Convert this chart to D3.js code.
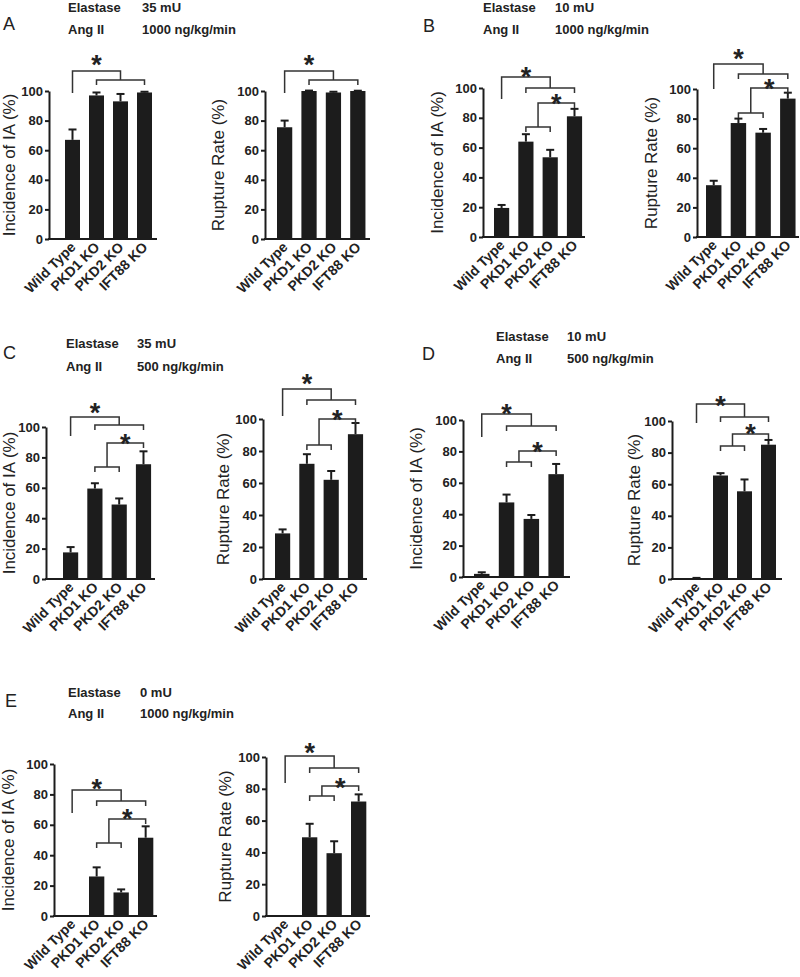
<!DOCTYPE html>
<html>
<head>
<meta charset="utf-8">
<script src="https://cdn.jsdelivr.net/npm/d3@7"></script>
<style>
  html, body { margin: 0; padding: 0; background: #fff; }
  svg text { font-family: Arial, "Liberation Sans", Helvetica, sans-serif; fill: #222; }
</style>
</head>
<body>
<svg id="fig" width="800" height="977"></svg>
<script>
// ---------------- DATA ----------------
const categories = ["Wild Type", "PKD1 KO", "PKD2 KO", "IFT88 KO"];
const panelLetters = ["A", "B", "C", "D", "E"];
const elastaseDose = ["35 mU", "10 mU", "35 mU", "10 mU", "0 mU"];
const angIIDose = ["1000 ng/kg/min", "1000 ng/kg/min", "500 ng/kg/min", "500 ng/kg/min", "1000 ng/kg/min"];
const yTicks = [0, 20, 40, 60, 80, 100];
const metricLabels = ["Incidence of IA (%)", "Rupture Rate (%)"];

// incidence of IA (%) — mean per panel (A..E)
const incidenceMean = [
  [67, 97, 93, 99],
  [19.5, 64, 53.5, 81],
  [17.5, 59.5, 49, 75.5],
  [2, 47.5, 37, 65.5],
  [0, 26, 15.5, 51.5]
];
const incidenceErr = [
  [7, 2, 5, 0.5],
  [2, 5, 5, 5],
  [3.5, 3.5, 4, 8.5],
  [1, 5, 2.5, 6.5],
  [0, 6, 2, 7.5]
];
// rupture rate (%)
const ruptureMean = [
  [75.5, 100, 99, 100],
  [35, 77, 70.5, 93.5],
  [28.5, 72, 62, 90.5],
  [0.5, 65.5, 55.5, 85],
  [0, 49.5, 39.5, 72]
];
const ruptureErr = [
  [4.5, 0.3, 0.5, 0.2],
  [3, 3, 2.5, 4],
  [2.5, 6, 5.5, 7],
  [0.2, 1.5, 7.5, 3],
  [0, 8.5, 7.5, 4.5]
];
// significance annotations (in % units): [wtLegBottom, level1, level2, star1, level3, level4, star2]
const sigIncidence = [
  [98.6, 113.5, 107.4, 122, null, null, null],
  [92.6, 107.4, 100, 111.5, 73.8, 89.9, 93.5],
  [94.1, 106.6, 101.3, 113.2, 73.7, 89.5, 93],
  [89.2, 103.8, 96.2, 107.6, 73.2, 80.3, 83.4],
  [67.8, 82.9, 75.7, 87.5, 48, 63.8, 67.8]
];
const sigRupture = [
  [98.6, 113.5, 107.4, 122, null, null, null],
  [100, 116.9, 110.1, 124.3, 83.8, 100.7, 104],
  [101.9, 118.8, 111.9, 125.6, 83.8, 100, 103.1],
  [98.7, 110.8, 102.5, 113.3, 84.2, 91.8, 95.6],
  [83.6, 100.6, 93.1, 106.3, 75.5, 81.8, 84.3]
];

// ---------------- LAYOUT ----------------
const frames = [
  {p:0, m:0, left:49,  right:157, top:91,  bottom:239, first:65,    step:24,   labelX:9},
  {p:0, m:1, left:265, right:370, top:91,  bottom:239, first:277,   step:24.4, labelX:218},
  {p:1, m:0, left:483, right:585, top:88,  bottom:237, first:494,   step:24.3, labelX:437},
  {p:1, m:1, left:697, right:799, top:89,  bottom:237, first:706,   step:24.7, labelX:651},
  {p:2, m:0, left:46,  right:155, top:427, bottom:579, first:63,    step:24.3, labelX:9},
  {p:2, m:1, left:263, right:367, top:419, bottom:579, first:275,   step:24.3, labelX:223},
  {p:3, m:0, left:463, right:570, top:420, bottom:577, first:474,   step:24.8, labelX:416},
  {p:3, m:1, left:672, right:782, top:421, bottom:579, first:689,   step:24,   labelX:634},
  {p:4, m:0, left:54,  right:157, top:764, bottom:916, first:64.5,  step:24.5, labelX:8},
  {p:4, m:1, left:266, right:370, top:757, bottom:916, first:277.5, step:24.5, labelX:225}
];
const headers = [
  {letterX:3,   letterY:30,  x:68,  valX:142, y1:12,  y2:34},
  {letterX:423, letterY:32,  x:483, valX:555, y1:12,  y2:34},
  {letterX:3,   letterY:359, x:66,  valX:137, y1:348, y2:371},
  {letterX:422, letterY:360, x:496, valX:567, y1:341, y2:363},
  {letterX:5,   letterY:707, x:68,  valX:140, y1:697, y2:718}
];

const svg = d3.select("#fig");
const INK = "#1c1c1c";

headers.forEach((h, i) => {
  const g = svg.append("g");
  g.append("text").attr("x", h.letterX).attr("y", h.letterY)
    .attr("font-size", 18).text(panelLetters[i]);
  g.append("text").attr("x", h.x).attr("y", h.y1).attr("font-size", 13)
    .attr("font-weight", "bold").text("Elastase");
  g.append("text").attr("x", h.valX).attr("y", h.y1).attr("font-size", 13)
    .attr("font-weight", "bold").text(elastaseDose[i]);
  g.append("text").attr("x", h.x).attr("y", h.y2).attr("font-size", 13)
    .attr("font-weight", "bold").text("Ang II");
  g.append("text").attr("x", h.valX).attr("y", h.y2).attr("font-size", 13)
    .attr("font-weight", "bold").text(angIIDose[i]);
});

frames.forEach(f => {
  const means = (f.m === 0 ? incidenceMean : ruptureMean)[f.p];
  const errs = (f.m === 0 ? incidenceErr : ruptureErr)[f.p];
  const sig = (f.m === 0 ? sigIncidence : sigRupture)[f.p];

  const pi = 0.375, po = pi / 2;
  const x0 = f.first - po * f.step;
  const x = d3.scaleBand().domain(categories)
    .range([x0, x0 + categories.length * f.step])
    .paddingInner(pi).paddingOuter(po);
  const y = d3.scaleLinear().domain([0, 100]).range([f.bottom, f.top]);
  const cx = c => x(c) + x.bandwidth() / 2;

  const g = svg.append("g");

  const data = categories.map((c, i) => ({c, v: means[i], e: errs[i]}));
  g.selectAll("rect.bar").data(data).join("rect")
    .attr("class", "bar")
    .attr("x", d => x(d.c)).attr("width", x.bandwidth())
    .attr("y", d => y(d.v)).attr("height", d => y(0) - y(d.v))
    .attr("fill", INK);

  const eb = g.selectAll("g.err").data(data.filter(d => d.v > 0)).join("g").attr("class", "err");
  eb.append("line")
    .attr("x1", d => cx(d.c)).attr("x2", d => cx(d.c))
    .attr("y1", d => y(d.v)).attr("y2", d => y(d.v + d.e))
    .attr("stroke", INK).attr("stroke-width", 2);
  eb.append("line")
    .attr("x1", d => cx(d.c) - 4).attr("x2", d => cx(d.c) + 4)
    .attr("y1", d => y(d.v + d.e)).attr("y2", d => y(d.v + d.e))
    .attr("stroke", INK).attr("stroke-width", 2);

  const ya = g.append("g").attr("transform", `translate(${f.left},0)`)
    .call(d3.axisLeft(y).tickValues(yTicks).tickSize(4).tickPadding(2).tickSizeOuter(0));
  ya.select(".domain").attr("stroke", INK).attr("stroke-width", 2);
  ya.selectAll(".tick line").attr("stroke", INK).attr("stroke-width", 2);
  ya.selectAll(".tick text").attr("font-size", 13).attr("font-weight", "bold")
    .attr("font-family", "Arial, 'Liberation Sans', sans-serif").attr("fill", "#222");

  g.append("line").attr("x1", f.left - 1).attr("x2", f.right)
    .attr("y1", y(0)).attr("y2", y(0))
    .attr("stroke", INK).attr("stroke-width", 2);

  g.selectAll("text.xl").data(categories).join("text")
    .attr("class", "xl")
    .attr("transform", c => `translate(${cx(c) + 4},${y(0) + 9}) rotate(-45)`)
    .attr("text-anchor", "end")
    .attr("font-size", 14).attr("fill", "#1a1a1a")
    .style("font-weight", 600)
    .text(c => c);

  g.append("text")
    .attr("transform", `translate(${f.labelX + 6},${(f.top + f.bottom) / 2}) rotate(-90)`)
    .attr("text-anchor", "middle").attr("font-size", 17)
    .text(metricLabels[f.m]);

  const BR = "#333", TK = 5;
  const [wtLeg, L1, L2, s1, L3, L4, s2] = sig;
  const pk1 = cx(categories[1]), pk2 = cx(categories[2]), ift = cx(categories[3]), wt = cx(categories[0]);
  const mid2 = (pk1 + ift) / 2;
  const bg = g.append("g").attr("fill", "none").attr("stroke", BR).attr("stroke-width", 1.5);
  bg.append("path").attr("d", d3.line()([[wt, y(wtLeg)], [wt, y(L1)], [mid2, y(L1)], [mid2, y(L2)]]));
  bg.append("path").attr("d", d3.line()([[pk1, y(L2) + TK], [pk1, y(L2)], [ift, y(L2)], [ift, y(L2) + TK]]));
  const star = (sx, sy) => g.append("text").attr("x", sx).attr("y", y(sy) + 0.56 * 27)
    .attr("text-anchor", "middle").attr("font-size", 27).attr("font-weight", "bold").attr("fill", INK).text("*");
  star((wt + mid2) / 2, s1);
  if (L3 != null) {
    const mid3 = (pk1 + pk2) / 2;
    bg.append("path").attr("d", d3.line()([[pk1, y(L3) + TK], [pk1, y(L3)], [pk2, y(L3)], [pk2, y(L3) + TK]]));
    bg.append("path").attr("d", d3.line()([[mid3, y(L3)], [mid3, y(L4)], [ift, y(L4)], [ift, y(L4) + TK]]));
    star((mid3 + ift) / 2, s2);
  }
});
</script>
</body>
</html>
